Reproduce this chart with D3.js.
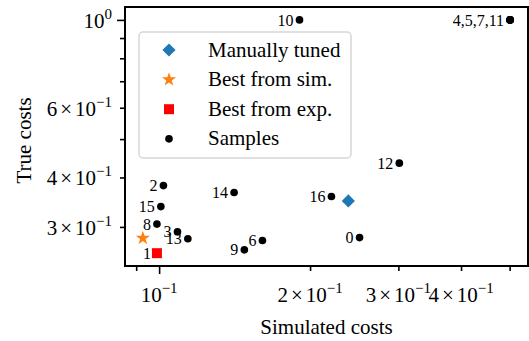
<!DOCTYPE html>
<html>
<head>
<meta charset="utf-8">
<script src="https://cdn.jsdelivr.net/npm/d3@7"></script>
<style>
  html, body { margin: 0; padding: 0; background: #fff; }
  svg { display: block; font-family: "Liberation Serif", "Times New Roman", serif; }
</style>
</head>
<body>
<svg id="chart" width="529" height="341"></svg>
<script>
// ---- data ----
const sampleIds  = [0, 1, 2, 3, 4, 5, 6, 7, 8, 9, 10, 11, 12, 13, 14, 15, 16];
const sampleSim  = [0.251, 0.099, 0.102, 0.1088, 0.501, 0.501, 0.1607, 0.501, 0.099, 0.1479, 0.1905, 0.501, 0.3013, 0.1141, 0.1411, 0.1008, 0.2206];
const sampleTrue = [0.282, 0.2575, 0.3816, 0.2915, 1.0, 1.0, 0.2772, 1.0, 0.305, 0.2625, 1.0, 1.0, 0.4346, 0.280, 0.3664, 0.3377, 0.358];
const manualSim = [0.2384], manualTrue = [0.349];
const bestSimSim = [0.0928], bestSimTrue = [0.281];
const bestExpSim = [0.099], bestExpTrue = [0.2575];

const legendLabels = ["Manually tuned", "Best from sim.", "Best from exp.", "Samples"];
const xMajorTicks = [0.1];
const xMinorTicks = [0.09, 0.2, 0.3, 0.4, 0.5];
const xTickLabels = [{v: 0.1, m: "", e: "−1"}, {v: 0.2, m: "2", e: "−1"}, {v: 0.3, m: "3", e: "−1"}, {v: 0.4, m: "4", e: "−1"}];
const yMajorTicks = [1.0];
const yMinorTicks = [0.3, 0.4, 0.5, 0.6, 0.7, 0.8, 0.9];
const yTickLabels = [{v: 1.0, m: "", e: "0"}, {v: 0.6, m: "6", e: "−1"}, {v: 0.4, m: "4", e: "−1"}, {v: 0.3, m: "3", e: "−1"}];

// ---- layout ----
const L = 125, R = 528, T = 7, B = 266;
const svg = d3.select("#chart");
const x = d3.scaleLog().domain([0.0855, 0.544]).range([L, R]);
const y = d3.scaleLog().domain([0.239, 1.078]).range([B, T]);
const FS = 21;

// axes ticks
function tickAxis(axisGen, vals, size, transform) {
  const g = svg.append("g").attr("transform", transform)
    .call(axisGen.tickValues(vals).tickSize(size).tickFormat(""));
  g.select(".domain").remove();
  g.selectAll(".tick line").attr("stroke", "#000").attr("stroke-width", 1.6);
  return g;
}
tickAxis(d3.axisBottom(x), xMajorTicks, 8, `translate(0,${B})`);
tickAxis(d3.axisBottom(x), xMinorTicks, 5, `translate(0,${B})`);
tickAxis(d3.axisLeft(y), yMajorTicks, 8, `translate(${L},0)`);
tickAxis(d3.axisLeft(y), yMinorTicks, 5, `translate(${L},0)`);

function sciLabel(sel, d) {
  if (d.m) {
    sel.append("tspan").text(d.m);
    sel.append("tspan").attr("dx", 3).text("×");
    sel.append("tspan").attr("dx", 3).text("10");
  } else {
    sel.append("tspan").text("10");
  }
  sel.append("tspan").attr("dy", -9).attr("font-size", 15).text(d.e);
}
xTickLabels.forEach(d => {
  const t = svg.append("text").attr("x", x(d.v)).attr("y", B + 36)
    .attr("text-anchor", "middle").attr("font-size", FS);
  sciLabel(t, d);
});
yTickLabels.forEach(d => {
  const t = svg.append("text").attr("x", 112).attr("y", y(d.v) + 8)
    .attr("text-anchor", "end").attr("font-size", FS);
  sciLabel(t, d);
});

// axis labels
svg.append("text").attr("x", (L + R) / 2).attr("y", 334).attr("text-anchor", "middle")
  .attr("font-size", FS).text("Simulated costs");
svg.append("text").attr("transform", `translate(31,${(T + B) / 2 + 4}) rotate(-90)`)
  .attr("text-anchor", "middle").attr("font-size", FS).text("True costs");

// ---- points ----
const samples = sampleIds.map((id, i) => ({id, sx: sampleSim[i], ty: sampleTrue[i]}));
const groups = d3.groups(samples, d => d.sx + "_" + d.ty).map(([k, arr]) => ({
  sx: arr[0].sx, ty: arr[0].ty, label: arr.map(d => d.id).join(",")
}));

const circle = d3.symbol().type(d3.symbolCircle).size(46);
const star = d3.symbol().type(d3.symbolStar).size(62);
const square = d3.symbol().type(d3.symbolSquare).size(100);
const diamond = d3.symbol().type(d3.symbolSquare).size(86);

svg.append("g").selectAll("path").data(samples).join("path")
  .attr("d", circle).attr("fill", "#000")
  .attr("transform", d => `translate(${x(d.sx)},${y(d.ty)})`);

svg.append("g").selectAll("text").data(groups).join("text")
  .attr("x", d => x(d.sx) - 6).attr("y", d => y(d.ty)).attr("dy", "0.35em")
  .attr("text-anchor", "end").attr("font-size", 16).text(d => d.label);

svg.append("g").selectAll("path").data(manualSim.map((v, i) => [v, manualTrue[i]])).join("path")
  .attr("d", diamond).attr("fill", "#1f77b4")
  .attr("transform", d => `translate(${x(d[0])},${y(d[1])}) rotate(45)`);
svg.append("g").selectAll("path").data(bestSimSim.map((v, i) => [v, bestSimTrue[i]])).join("path")
  .attr("d", star).attr("fill", "#ff7f0e")
  .attr("transform", d => `translate(${x(d[0])},${y(d[1])})`);
svg.append("g").selectAll("path").data(bestExpSim.map((v, i) => [v, bestExpTrue[i]])).join("path")
  .attr("d", square).attr("fill", "#ff0000")
  .attr("transform", d => `translate(${x(d[0])},${y(d[1])})`);

// ---- legend ----
const lg = svg.append("g");
lg.append("rect").attr("x", 139).attr("y", 32).attr("width", 212).attr("height", 126)
  .attr("rx", 4).attr("fill", "#fff").attr("fill-opacity", 0.8)
  .attr("stroke", "#d6d6d6").attr("stroke-width", 1.5);
const legendMarkers = [
  {sym: diamond, fill: "#1f77b4", rot: 45},
  {sym: star, fill: "#ff7f0e", rot: 0},
  {sym: square, fill: "#ff0000", rot: 0},
  {sym: circle, fill: "#000", rot: 0}
];
legendLabels.forEach((lab, i) => {
  const cy = 50 + i * 29.6;
  lg.append("path").attr("d", legendMarkers[i].sym).attr("fill", legendMarkers[i].fill)
    .attr("transform", `translate(169,${cy}) rotate(${legendMarkers[i].rot})`);
  lg.append("text").attr("x", 208).attr("y", cy + 6.5).attr("font-size", FS).text(lab);
});

// frame
svg.append("rect").attr("x", L).attr("y", T).attr("width", R - L).attr("height", B - T)
  .attr("fill", "none").attr("stroke", "#000").attr("stroke-width", 2);
</script>
</body>
</html>
